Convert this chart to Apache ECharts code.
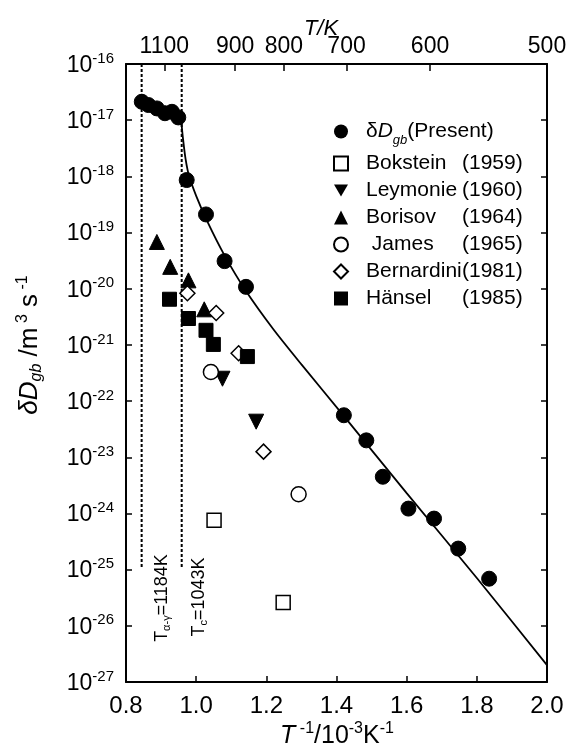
<!DOCTYPE html>
<html>
<head>
<meta charset="utf-8">
<script src="https://cdn.jsdelivr.net/npm/echarts@6/dist/echarts.min.js"></script>
<style>
  html, body { margin: 0; padding: 0; background: #fff; }
  #main { width: 567px; height: 750px; }
</style>
</head>
<body>
<div id="main"></div>
<script>
// x: 1/T in 10^-3 K^-1, y: δD_gb in m^3 s^-1
var presentX = [0.845, 0.864, 0.888, 0.911, 0.931, 0.949, 0.973, 1.028, 1.081, 1.142, 1.421, 1.485, 1.532, 1.605, 1.678, 1.747, 1.835];
var presentY = [2.13e-17, 1.86e-17, 1.62e-17, 1.33e-17, 1.41e-17, 1.12e-17, 8.6e-19, 2.1e-19, 3.1e-20, 1.08e-20, 5.6e-23, 2.0e-23, 4.5e-24, 1.22e-24, 8.1e-25, 2.37e-25, 6.9e-26];

var boksteinX = [1.051, 1.248];
var boksteinY = [7.6e-25, 2.6e-26];
var leymonieX = [1.075, 1.171];
var leymonieY = [2.5e-22, 4.3e-23];
var borisovX = [0.888, 0.926, 0.978, 1.023];
var borisovY = [6.8e-20, 2.45e-20, 1.41e-20, 4.3e-21];
var jamesX = [1.042, 1.292];
var jamesY = [3.3e-22, 2.2e-24];
var bernardiniX = [0.975, 1.057, 1.121, 1.192];
var bernardiniY = [8.3e-21, 3.7e-21, 7.1e-22, 1.26e-23];
var hanselX = [0.924, 0.978, 1.028, 1.049, 1.146];
var hanselY = [6.5e-21, 2.95e-21, 1.82e-21, 1.02e-21, 6.2e-22];

// solid curve
var fitX = [0.957, 0.962, 0.970, 0.980, 1.000, 1.030, 1.080, 1.140, 1.220, 1.300, 1.420, 1.600, 1.800, 2.000];
var fitY = [1.05e-17, 5.0e-18, 2.0e-18, 1.0e-18, 4.5e-19, 1.66e-19, 4.0e-20, 9.5e-21, 1.9e-21, 4.5e-22, 5.5e-23, 2.3e-24, 7.1e-26, 2.0e-27];

// transition temperatures (dashed lines), K
var transitionT = [1184, 1043];
var dashTop = 1e-16;
var dashBottom = 1.1e-25;

// top axis temperatures, K
var topTempTicks = [1100, 900, 800, 700, 600, 500];

var legendYears = {
  'Bokstein': '1959',
  'Leymonie': '1960',
  'Borisov': '1964',
  'James': '1965',
  'Bernardini': '1981',
  'Hänsel': '1985'
};

var FONT = 'Liberation Sans, Arial, sans-serif';
var DOWN_TRIANGLE = 'path://M0,0L20,0L10,17.3Z';

// y axis is drawn in decades (log10 of the value)
function lg(v) {
  return Math.log(v) / Math.LN10;
}

function pairs(xs, ys) {
  var out = [];
  for (var i = 0; i < xs.length; i++) {
    out.push([xs[i], lg(ys[i])]);
  }
  return out;
}

var topTickX = topTempTicks.map(function (t) { return 1000 / t; });

var myChart = echarts.init(document.getElementById('main'));

var markerBase = { color: '#000', borderColor: '#000', opacity: 1 };
var markerOpen = { color: '#fff', borderColor: '#000', borderWidth: 1.5, opacity: 1 };

var dashSeries = transitionT.map(function (t, i) {
  return {
    name: 'dash' + i,
    type: 'line',
    data: [[1000 / t, lg(dashTop)], [1000 / t, lg(dashBottom)]],
    symbol: 'none',
    silent: true,
    lineStyle: { color: '#000', width: 2, type: [3, 2] },
    z: 1
  };
});

var axisTickStyle = { color: '#000', width: 1.5 };

var option = {
  backgroundColor: '#fff',
  animation: false,
  grid: { left: 126, right: 20, top: 64, bottom: 68, containLabel: false, outerBoundsMode: 'none' },
  legend: {
    orient: 'vertical',
    left: 328,
    top: 116,
    itemWidth: 14,
    itemHeight: 14,
    itemGap: 6,
    selectedMode: false,
    data: ['Present', 'Bokstein', 'Leymonie', 'Borisov', 'James', 'Bernardini', 'Hänsel'],
    formatter: function (name) {
      if (name === 'Present') {
        return '{sp|}{g|δ}{it|D}{sub|gb}{t|(Present)}';
      }
      var label = name === 'James' ? ' James' : name;
      return '{sp|}{n|' + label + '}{t|(' + legendYears[name] + ')}';
    },
    textStyle: {
      rich: {
        sp: { width: 13, lineHeight: 21 },
        g: { fontFamily: FONT, fontSize: 21, color: '#000', lineHeight: 21 },
        it: { fontFamily: FONT, fontSize: 21, fontStyle: 'italic', color: '#000', lineHeight: 21 },
        sub: { fontFamily: FONT, fontSize: 13, fontStyle: 'italic', color: '#000', lineHeight: 13, verticalAlign: 'bottom', padding: [0, 0, -5, 0] },
        n: { fontFamily: FONT, fontSize: 21, color: '#000', width: 96, lineHeight: 21 },
        t: { fontFamily: FONT, fontSize: 21, color: '#000', lineHeight: 21 }
      }
    }
  },
  xAxis: [
    {
      type: 'value',
      position: 'bottom',
      min: 0.8,
      max: 2.0,
      interval: 0.2,
      splitLine: { show: false },
      axisLine: { lineStyle: { color: '#000', width: 2 } },
      axisTick: { inside: true, length: 6, lineStyle: axisTickStyle },
      axisLabel: {
        margin: 12,
        color: '#000',
        fontFamily: FONT,
        fontSize: 24,
        formatter: function (v) { return v.toFixed(1); }
      }
    },
    {
      type: 'value',
      position: 'top',
      min: 0.8,
      max: 2.0,
      splitLine: { show: false },
      axisLine: { onZero: false, lineStyle: { color: '#000', width: 2 } },
      axisTick: { inside: true, length: 7, customValues: topTickX, lineStyle: axisTickStyle },
      axisLabel: {
        margin: 6,
        color: '#000',
        fontFamily: FONT,
        fontSize: 23,
        customValues: topTickX,
        formatter: function (v) { return String(Math.round(1000 / v)); }
      }
    }
  ],
  yAxis: [
    {
      type: 'value',
      min: -27,
      max: -16,
      interval: 1,
      position: 'left',
      splitLine: { show: false },
      axisLine: { onZero: false, lineStyle: { color: '#000', width: 2 } },
      axisTick: { inside: true, length: 6, lineStyle: axisTickStyle },
      axisLabel: {
        margin: 12,
        formatter: function (v) {
          return '{b|10}{e|' + Math.round(v) + '}';
        },
        rich: {
          b: { fontFamily: FONT, fontSize: 23, color: '#000', lineHeight: 26, verticalAlign: 'bottom' },
          e: { fontFamily: FONT, fontSize: 15, color: '#000', lineHeight: 15, verticalAlign: 'top' }
        }
      }
    },
    {
      type: 'value',
      min: -27,
      max: -16,
      interval: 1,
      position: 'right',
      splitLine: { show: false },
      axisLine: { onZero: false, lineStyle: { color: '#000', width: 2 } },
      axisTick: { inside: true, length: 6, lineStyle: axisTickStyle },
      axisLabel: { show: false }
    }
  ],
  series: dashSeries.concat([
    {
      name: 'fit',
      type: 'line',
      data: pairs(fitX, fitY),
      symbol: 'none',
      smooth: 0.25,
      silent: true,
      lineStyle: { color: '#000', width: 1.8 },
      z: 2
    },
    {
      name: 'Present',
      type: 'scatter',
      symbol: 'circle',
      symbolSize: 15,
      data: pairs(presentX, presentY),
      itemStyle: markerBase,
      z: 5
    },
    {
      name: 'Bokstein',
      type: 'scatter',
      symbol: 'rect',
      symbolSize: 14,
      data: pairs(boksteinX, boksteinY),
      itemStyle: markerOpen,
      z: 5
    },
    {
      name: 'Leymonie',
      type: 'scatter',
      symbol: DOWN_TRIANGLE,
      symbolSize: 15,
      data: pairs(leymonieX, leymonieY),
      itemStyle: markerBase,
      z: 5
    },
    {
      name: 'Borisov',
      type: 'scatter',
      symbol: 'triangle',
      symbolSize: 15,
      data: pairs(borisovX, borisovY),
      itemStyle: markerBase,
      z: 5
    },
    {
      name: 'James',
      type: 'scatter',
      symbol: 'circle',
      symbolSize: 15,
      data: pairs(jamesX, jamesY),
      itemStyle: markerOpen,
      z: 5
    },
    {
      name: 'Bernardini',
      type: 'scatter',
      symbol: 'diamond',
      symbolSize: 15,
      data: pairs(bernardiniX, bernardiniY),
      itemStyle: markerOpen,
      z: 5
    },
    {
      name: 'Hänsel',
      type: 'scatter',
      symbol: 'rect',
      symbolSize: 14,
      data: pairs(hanselX, hanselY),
      itemStyle: markerBase,
      z: 5
    }
  ]),
  graphic: [
    // top axis name
    {
      type: 'text',
      x: 321,
      y: 29,
      style: {
        text: 'T/K',
        fontFamily: FONT,
        fontSize: 22,
        fontStyle: 'italic',
        fill: '#000',
        align: 'center',
        verticalAlign: 'middle'
      }
    },
    // bottom axis name
    {
      type: 'text',
      x: 337,
      y: 735,
      style: {
        text: '{it|T}{p| -1}{a|/10}{p|-3}{a|K}{p|-1}',
        align: 'center',
        verticalAlign: 'middle',
        rich: {
          it: { fontFamily: FONT, fontSize: 25, fontStyle: 'italic', fill: '#000', lineHeight: 28, verticalAlign: 'bottom' },
          a: { fontFamily: FONT, fontSize: 25, fill: '#000', lineHeight: 28, verticalAlign: 'bottom' },
          p: { fontFamily: FONT, fontSize: 16, fill: '#000', lineHeight: 16, verticalAlign: 'top' }
        }
      }
    },
    // left axis name
    {
      type: 'text',
      x: 30,
      y: 345,
      rotation: Math.PI / 2,
      style: {
        text: '{it|δD}{s|gb}{a| /m}{p| 3}{a| s}{p| -1}',
        align: 'center',
        verticalAlign: 'middle',
        rich: {
          it: { fontFamily: FONT, fontSize: 26, fontStyle: 'italic', fill: '#000', lineHeight: 30, verticalAlign: 'middle' },
          a: { fontFamily: FONT, fontSize: 26, fill: '#000', lineHeight: 30, verticalAlign: 'middle' },
          s: { fontFamily: FONT, fontSize: 16, fontStyle: 'italic', fill: '#000', lineHeight: 16, verticalAlign: 'bottom' },
          p: { fontFamily: FONT, fontSize: 16, fill: '#000', lineHeight: 16, verticalAlign: 'top' }
        }
      }
    },
    // transition labels
    {
      type: 'text',
      x: 162,
      y: 598,
      rotation: Math.PI / 2,
      style: {
        text: '{a|T}{s|α-γ}{a|=1184K}',
        align: 'center',
        verticalAlign: 'middle',
        rich: {
          a: { fontFamily: FONT, fontSize: 18, fill: '#000', lineHeight: 20, verticalAlign: 'middle' },
          s: { fontFamily: FONT, fontSize: 11, fill: '#000', lineHeight: 11, verticalAlign: 'bottom' }
        }
      }
    },
    {
      type: 'text',
      x: 199,
      y: 597,
      rotation: Math.PI / 2,
      style: {
        text: '{a|T}{s|c}{a|=1043K}',
        align: 'center',
        verticalAlign: 'middle',
        rich: {
          a: { fontFamily: FONT, fontSize: 18, fill: '#000', lineHeight: 20, verticalAlign: 'middle' },
          s: { fontFamily: FONT, fontSize: 11, fill: '#000', lineHeight: 11, verticalAlign: 'bottom' }
        }
      }
    }
  ]
};

myChart.setOption(option);
</script>
</body>
</html>
